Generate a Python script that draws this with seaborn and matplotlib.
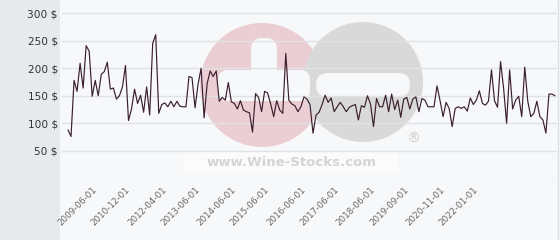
import numpy as np
import pandas as pd
import matplotlib
matplotlib.use("Agg")
import matplotlib.pyplot as plt
import matplotlib.transforms as mtransforms
from matplotlib.patches import Circle, FancyBboxPatch, Rectangle
from matplotlib.lines import Line2D
import seaborn as sns

# ---------------- data ----------------
prices = [
    88, 76, 178, 158, 209, 164, 241, 231, 149, 178, 150, 189, 194, 211, 162, 164,
    144, 150, 166, 205, 105, 126, 162, 136, 151, 120, 166, 115, 245, 261, 118,
    134, 137, 130, 140, 130, 140, 131, 130, 130,
    185, 183, 128, 171, 200, 110, 172, 195, 185, 195,
    140, 147, 142, 174, 139, 136, 126, 141, 124, 121, 119, 84,
    154, 147, 121, 158, 155, 135, 112, 141, 124, 118, 227, 142, 135, 132, 121, 130,
    148, 144, 134, 82, 115, 120, 134, 151, 138, 146, 121, 130, 138, 130, 121, 129, 132,
    134, 106, 132, 129, 150, 135, 94, 145, 130, 130, 151, 121, 153, 125, 142, 111,
    144, 147, 126, 144, 148, 121, 145, 142, 130, 130, 130, 168, 141, 112, 138, 127,
    94, 127, 130, 127, 130, 122, 146, 134, 142, 159, 136, 133, 140, 197, 141, 129,
    212, 164, 100, 197, 126, 142, 149, 112, 202, 140, 112, 118, 140, 112, 106, 82,
    153, 153, 150,
]
tick_labels = ["2009-06-01", "2010-12-01", "2012-04-01", "2013-06-01", "2014-06-01",
               "2015-06-01", "2016-06-01", "2017-06-01", "2018-06-01", "2019-09-01",
               "2020-11-01", "2022-01-01"]
tick_index = [8, 19, 31, 42, 54, 65, 77, 88, 100, 111, 123, 134]
y_ticks = [0, 50, 100, 150, 200, 250, 300]

df = pd.DataFrame({"i": np.arange(len(prices)), "price": prices})

# ---------------- figure ----------------
W, H = 560, 240
sns.set_style("white")
plt.rcParams['font.family'] = ['DejaVu Sans']
fig = plt.figure(figsize=(W / 100, H / 100), dpi=100, facecolor='#f7f8fa')

# pixel (top-left origin) -> display transform
pix = mtransforms.Affine2D().scale(1, -1).translate(0, H)

BG = '#f7f8fa'
decor = []
decor.append(Rectangle((0, 0), 60, H, facecolor='#e6eaed', edgecolor='none'))
# watermark
decor.append(Circle((262, 85), 62, facecolor='#ebcdd4', edgecolor='none'))
decor.append(Circle((363, 82), 60, facecolor='#d9d9d9', edgecolor='none'))
decor.append(FancyBboxPatch((251, 38), 26, 45, boxstyle="round,pad=0,rounding_size=11",
                            facecolor=BG, edgecolor='none'))
decor.append(FancyBboxPatch((218, 70), 92, 31, boxstyle="round,pad=0,rounding_size=10",
                            facecolor=BG, edgecolor='none'))
decor.append(FancyBboxPatch((316, 73), 94, 24, boxstyle="round,pad=0,rounding_size=12",
                            facecolor=BG, edgecolor='none'))
decor.append(Rectangle((183, 152), 215, 21, facecolor='#fbfbfc', edgecolor='none'))
for p in decor:
    p.set_transform(pix)
    p.set_zorder(-5)
    fig.patches.append(p)
fig.lines.append(Line2D([557.5, 557.5], [0, H], transform=pix, color='#dde0e3',
                        lw=1, zorder=-4))
fig.text(413 / W, 1 - 139 / H, "®", ha='center', va='center', fontsize=10,
         color='#d0d0d0', zorder=-4)
fig.text(292 / W, 1 - 162 / H, "www.Wine-Stocks.com", ha='center', va='center',
         fontsize=9.5, fontweight='bold', color='#d4d4d4', zorder=-4)

# axes
left_px, right_px, top_px, bottom_px = 62, 557, 0, 178.3
ax = fig.add_axes([left_px / W, 1 - bottom_px / H, (right_px - left_px) / W,
                   (bottom_px - top_px) / H])
ax.set_zorder(2)
ax.set_facecolor('none')

sns.lineplot(data=df, x="i", y="price", ax=ax, color='#3a1f2d', linewidth=0.85)

n = len(prices)
sp = (555 - 68) / (n - 1)
ax.set_xlim(-(68 - left_px) / sp, (n - 1) + (right_px - 555) / sp)
ax.set_ylim(0, 324)

ax.set_yticks(y_ticks)
ax.set_yticklabels([f"{v} $" if v else "" for v in y_ticks])
ax.tick_params(axis='y', length=0, pad=3, labelsize=7.6, labelcolor='#333333')
ax.yaxis.grid(True, color='#e0e2e5', lw=1)
ax.xaxis.grid(False)
ax.set_axisbelow(True)

ax.set_xticks(tick_index)
ax.set_xticklabels(tick_labels, rotation=45, ha='right', rotation_mode='anchor',
                   fontsize=6.3, color='#666666')
ax.tick_params(axis='x', length=0, pad=5)
ax.set_xlabel("")
ax.set_ylabel("")
for s in ax.spines.values():
    s.set_visible(False)

fig.savefig("out.png", dpi=100, facecolor=fig.get_facecolor())
